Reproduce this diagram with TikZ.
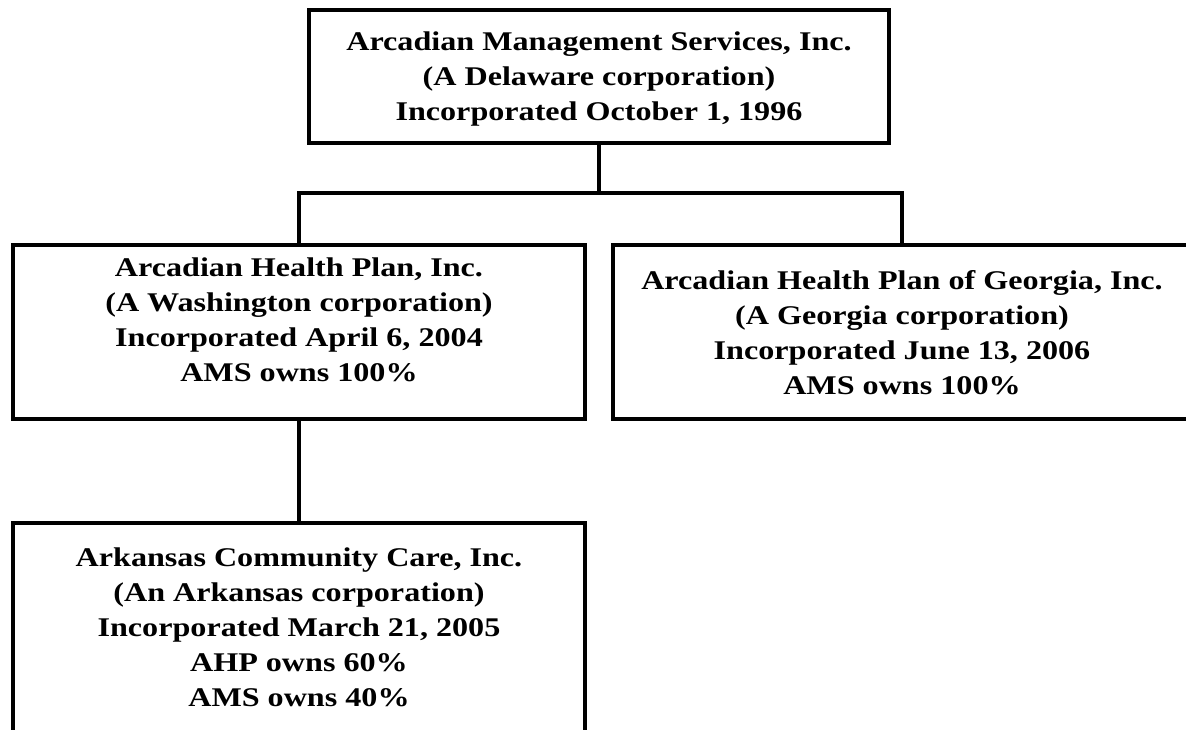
\documentclass[tikz,border=0pt]{standalone}
\usepackage{fontspec}
\setmainfont{Liberation Serif}
\newfontfamily\orgfont[FakeStretch=1.19]{Liberation Serif}
\begin{document}
\begin{tikzpicture}[x=1pt,y=-1pt,
  orgbox/.style={draw=black, line width=3.4pt, inner sep=0pt},
  orgtext/.style={align=center, inner sep=0pt,
    font=\orgfont\fontsize{27}{35}\selectfont\bfseries},
  conn/.style={draw=black, line width=3.4pt}]
  % page frame
  \clip (0,0) rectangle (1186,729);
  \fill[white] (0,0) rectangle (1186,729);

  % company boxes
  \node[orgbox, minimum width=580pt, minimum height=133pt] (ams)  at (599,76.5) {};
  \node[orgbox, minimum width=572pt, minimum height=174pt] (ahp)  at (299,332) {};
  \node[orgbox, minimum width=578pt, minimum height=174pt] (ahpg) at (902,332) {};
  \node[orgbox, minimum width=572pt, minimum height=236pt] (acc)  at (299,641) {};

  % box texts
  \node[orgtext] (ams-t) at (599,79)
    {Arcadian Management Services, Inc.\\(A Delaware corporation)\\Incorporated October 1, 1996};
  \node[orgtext] (ahp-t) at (299,320)
    {Arcadian Health Plan, Inc.\\(A Washington corporation)\\Incorporated April 6, 2004\\AMS owns 100\%};
  \node[orgtext] (ahpg-t) at (902,333)
    {Arcadian Health Plan of Georgia, Inc.\\(A Georgia corporation)\\Incorporated June 13, 2006\\AMS owns 100\%};
  \node[orgtext] (acc-t) at (299,627)
    {Arkansas Community Care, Inc.\\(An Arkansas corporation)\\Incorporated March 21, 2005\\AHP owns 60\%\\AMS owns 40\%};

  % ownership lines
  \coordinate (split) at (599,193);
  \draw[conn] (ams.south) -- (split);
  \draw[conn] (ahp.north) |- (split) -| (ahpg.north);
  \draw[conn] (ahp.south) -- (acc.north);
\end{tikzpicture}
\end{document}
